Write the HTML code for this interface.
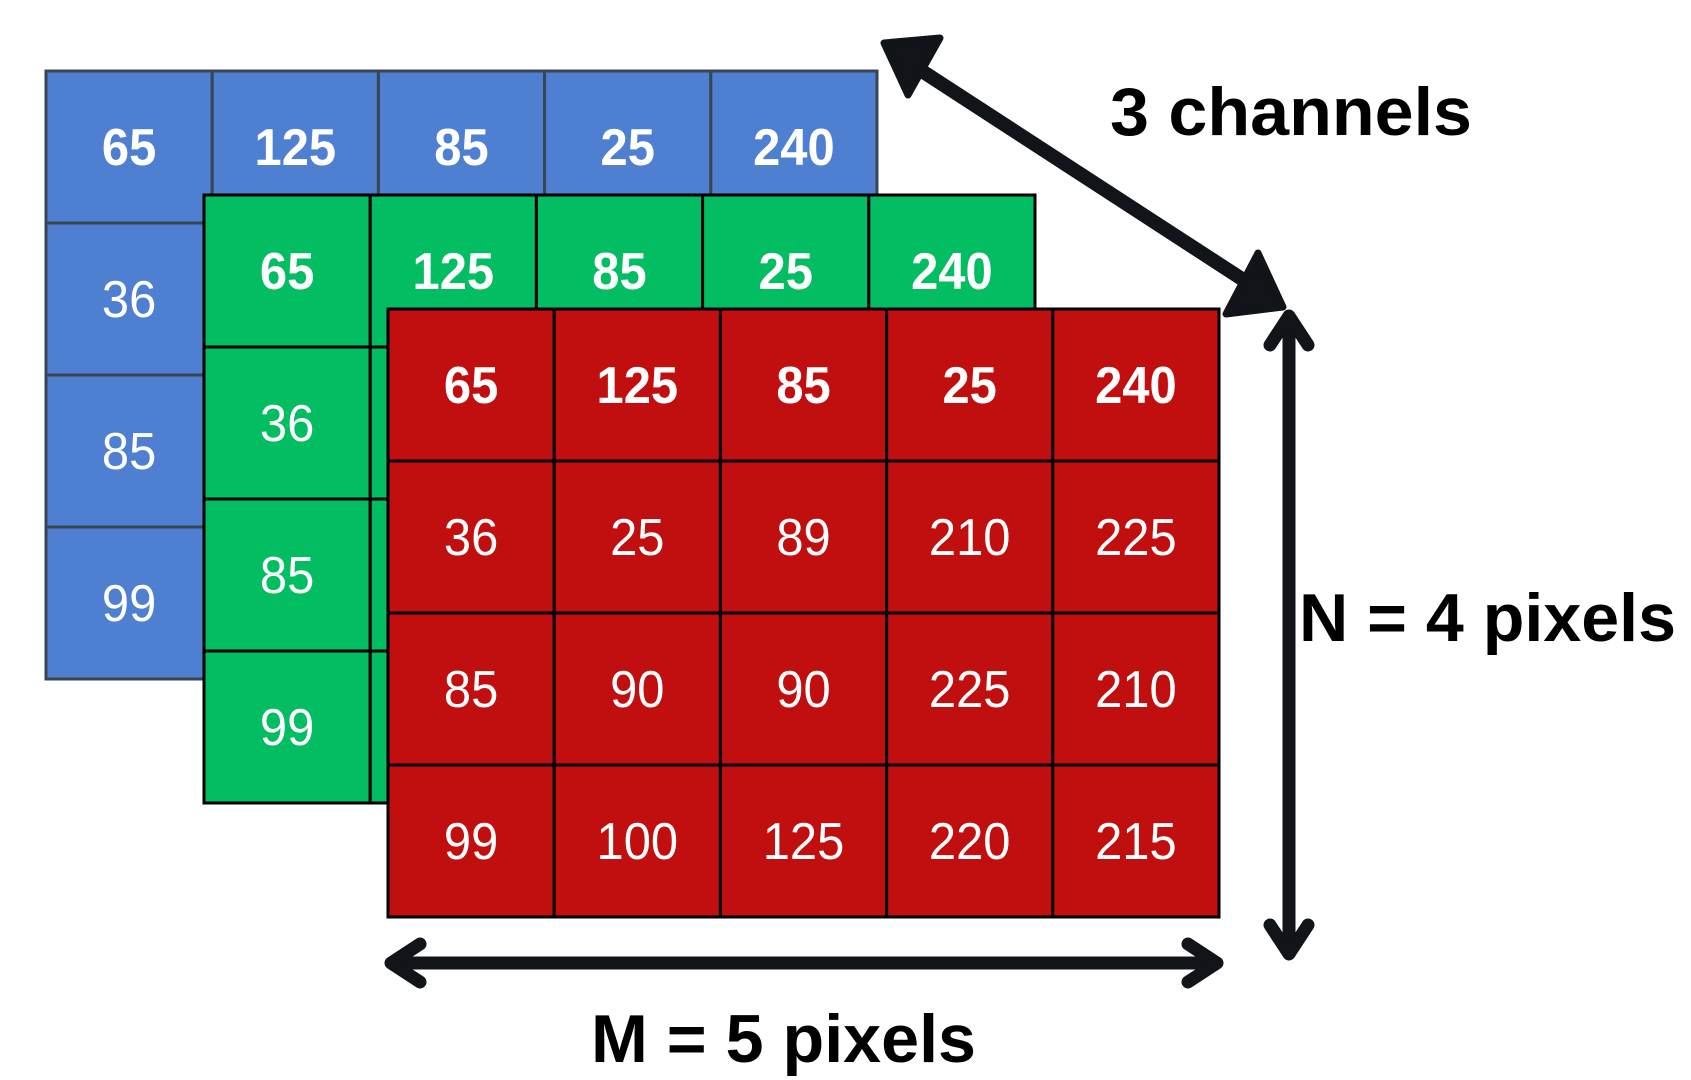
<!DOCTYPE html>
<html><head><meta charset="utf-8"><style>
html,body{margin:0;padding:0;background:#fff;width:1691px;height:1080px;overflow:hidden}
svg{display:block}
</style></head><body>
<svg id="fig" width="1691" height="1080" viewBox="0 0 1691 1080" font-family="'Liberation Sans', sans-serif">
<g id="grids"></g>
<g stroke="#111418" fill="#111418">
  <line x1="905" y1="60" x2="1262" y2="292" stroke-width="14"/>
  <polygon points="884,43 940,38 908,95" stroke-width="7" stroke-linejoin="round"/>
  <polygon points="1283,307 1226,314 1258,253" stroke-width="7" stroke-linejoin="round"/>
</g>
<g stroke="#111418" fill="none" stroke-width="13" stroke-linecap="round" stroke-linejoin="round">
  <line x1="1289" y1="318" x2="1289" y2="952"/>
  <polyline points="1270,345 1289,316 1308,345"/>
  <polyline points="1270,925 1289,954 1308,925"/>
</g>
<g stroke="#111418" fill="none" stroke-width="13" stroke-linecap="round" stroke-linejoin="round">
  <line x1="392" y1="963" x2="1216" y2="963"/>
  <polyline points="420,944 391,963 420,982"/>
  <polyline points="1188,944 1217,963 1188,982"/>
</g>
<text x="1110" y="135" font-size="68" font-weight="bold" fill="#000" textLength="362" lengthAdjust="spacingAndGlyphs">3 channels</text>
<text x="1299" y="641" font-size="68" font-weight="bold" fill="#000" textLength="377" lengthAdjust="spacingAndGlyphs">N = 4 pixels</text>
<text x="591" y="1062" font-size="68" font-weight="bold" fill="#000" textLength="385" lengthAdjust="spacingAndGlyphs">M = 5 pixels</text>
</svg>
<script>
const redRow1 = [65,125,85,25,240];
const redRow2 = [36,25,89,210,225];
const redRow3 = [85,90,90,225,210];
const redRow4 = [99,100,125,220,215];
const firstColumn = [65,36,85,99];
const channelNames = ['blue','green','red'];

const NS='http://www.w3.org/2000/svg';
const g=document.getElementById('grids');
const layers=[
 {x:46,y:71,fill:'#4e7fd0',stroke:'#3a4552'},
 {x:204,y:195,fill:'#02bd62',stroke:'#000'},
 {x:388,y:309,fill:'#c10e0e',stroke:'#000'}
];
const cw=166.2, ch=152;
const rows=[redRow1,redRow2,redRow3,redRow4];
layers.forEach((L,li)=>{
  const grp=document.createElementNS(NS,'g');
  
  
  g.appendChild(grp);
  for(let r=0;r<4;r++){
    for(let c=0;c<5;c++){
      const v = li<2 ? (r===0?rows[0][c]:(c===0?firstColumn[r]:rows[r][c])) : rows[r][c];
      const rect=document.createElementNS(NS,'rect');
      rect.setAttribute('x',L.x+c*cw);rect.setAttribute('y',L.y+r*ch);
      rect.setAttribute('width',cw);rect.setAttribute('height',ch);
      rect.setAttribute('fill',L.fill);rect.setAttribute('stroke',L.stroke);rect.setAttribute('stroke-width','3');
      
      
      grp.appendChild(rect);
      const t=document.createElementNS(NS,'text');
      const cx=L.x+c*cw+cw/2, cy=L.y+r*ch+ch/2+18;
      t.setAttribute('x',cx);t.setAttribute('y',cy);
      t.setAttribute('text-anchor','middle');t.setAttribute('fill','#fff');
      t.setAttribute('font-size','52');
      t.setAttribute('transform','translate('+cx+' 0) scale(0.94 1) translate('+(-cx)+' 0)');
      if(r===0) t.setAttribute('font-weight','bold');
      t.textContent=v;
      
      
      grp.appendChild(t);
    }
  }
});
</script>
</body></html>
